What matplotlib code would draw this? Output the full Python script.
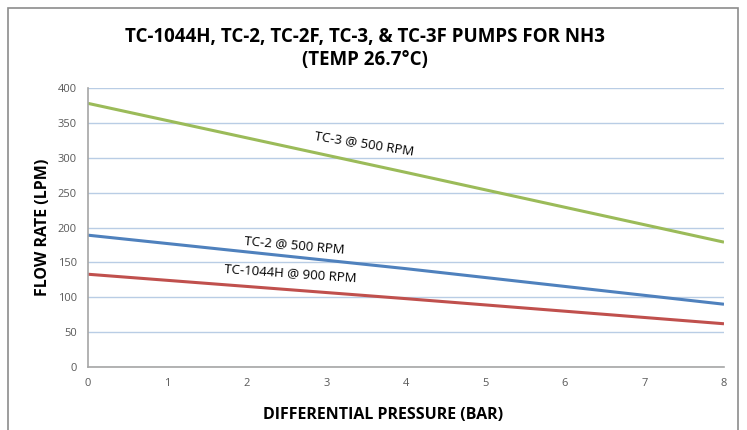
import matplotlib.pyplot as plt
import matplotlib.patches as mpatches

# data
pressure = [0, 4, 8]
tc3_flow = [378, 279, 179]
tc2_flow = [189, 141, 90]
tc1044h_flow = [133, 98, 62]

labels = ["TC-3 @ 500 RPM", "TC-2 @ 500 RPM", "TC-1044H @ 900 RPM"]
colors = ["#9bbb59", "#4f81bd", "#c0504d"]

plt.rcParams['font.family'] = ['Open Sans', 'DejaVu Sans']

fig = plt.figure(figsize=(7.47, 4.3), dpi=100)
ax = fig.add_axes([0.1178, 0.1465, 0.8514, 0.6488])

# outer chart frame
fig.patches.append(mpatches.Rectangle((8 / 747, -0.05), 730 / 747, 1.05 - 8 / 430,
                                      transform=fig.transFigure, fill=False,
                                      edgecolor="#8c8c8c", linewidth=1.2))

for yy, c in zip([tc3_flow, tc2_flow, tc1044h_flow], colors):
    ax.plot(pressure, yy, color=c, linewidth=2.2, solid_capstyle="butt")

ax.set_xlim(0, 8)
ax.set_ylim(0, 400)
ax.set_xticks(range(0, 9))
ax.set_yticks(range(0, 401, 50))
ax.grid(axis="y", color="#b9cde5", linewidth=1)
ax.set_axisbelow(True)
for s in ["top", "right"]:
    ax.spines[s].set_visible(False)
for s in ["left", "bottom"]:
    ax.spines[s].set_color("#a6a6a6")
    ax.spines[s].set_linewidth(1.2)
ax.tick_params(length=0, labelsize=8, colors="#595959", pad=8)

ax.set_xlabel("DIFFERENTIAL PRESSURE (BAR)", fontsize=11.5, fontweight="bold")
ax.xaxis.set_label_coords(0.464, -0.145)
ax.set_ylabel("FLOW RATE (LPM)", fontsize=11.5, fontweight="bold", labelpad=5)

ax.text(3.48, 321, labels[0], fontsize=9.5, rotation=-9, ha="center", va="center", rotation_mode="anchor")
ax.text(2.6, 175, labels[1], fontsize=9.5, rotation=-5, ha="center", va="center", rotation_mode="anchor")
ax.text(2.54, 135, labels[2], fontsize=9.5, rotation=-4, ha="center", va="center", rotation_mode="anchor")

fig.text(0.489, 0.915, "TC-1044H, TC-2, TC-2F, TC-3, & TC-3F PUMPS FOR NH3", fontsize=13.5,
         fontweight="bold", ha="center", va="center")
fig.text(0.489, 0.86, "(TEMP 26.7°C)", fontsize=13.5, fontweight="bold", ha="center", va="center")

plt.savefig("out.png", dpi=100)
